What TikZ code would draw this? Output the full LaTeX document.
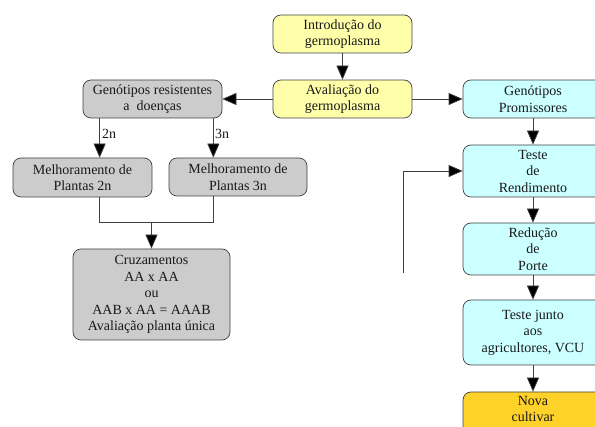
\documentclass[tikz,border=0pt]{standalone}
\usepackage{fontspec}
\setmainfont{Liberation Serif}
\usetikzlibrary{arrows.meta}
\definecolor{ylw}{HTML}{FFFFAA}
\definecolor{cyn}{HTML}{CCFFFF}
\definecolor{gry}{HTML}{CCCCCC}
\definecolor{org}{HTML}{FFD22A}
\definecolor{ln}{HTML}{404040}
\tikzset{
  box/.style={draw=ln, line width=0.7pt, rounded corners=8pt, align=center, inner sep=0pt,
    font=\fontsize{14}{16.5}\selectfont, text=black!90},
  arr/.style={draw=ln, line width=0.7pt, -{Triangle[length=14pt,width=12pt,fill=black]}},
  ln/.style={draw=ln, line width=0.7pt},
  lbl/.style={font=\fontsize{14}{16}\selectfont, inner sep=0pt, anchor=west, text=black!90}
}
\begin{document}
\begin{tikzpicture}[x=1pt,y=-1pt]
\useasboundingbox (0,0) rectangle (595,427);
\clip (0,0) rectangle (595,427);
% yellow
\node[box, fill=ylw, minimum width=139pt, minimum height=38pt] (intro) at (342.5,34) {Introdução do\\germoplasma};
\node[box, fill=ylw, minimum width=139pt, minimum height=38pt] (aval) at (342.5,99) {Avaliação do\\germoplasma};
% gray
\node[box, fill=gry, minimum width=139pt, minimum height=38pt] (res) at (152.5,99) {Genótipos resistentes\\a\ \ doenças};
\node[box, fill=gry, minimum width=139pt, minimum height=39pt] (m2n) at (82.5,177.5) {Melhoramento de\\Plantas 2n};
\node[box, fill=gry, minimum width=138pt, minimum height=38pt] (m3n) at (238,177) {Melhoramento de\\Plantas 3n};
\node[box, fill=gry, minimum width=157pt, minimum height=91pt] (cruz) at (151.5,294.5) {Cruzamentos\\AA x AA\\ou\\AAB x AA = AAAB\\Avaliação planta única};
% cyan
\node[box, fill=cyn, minimum width=140pt, minimum height=38pt] (prom) at (533,99) {Genótipos\\Promissores};
\node[box, fill=cyn, minimum width=140pt, minimum height=52pt] (teste) at (533,171) {Teste\\de\\Rendimento};
\node[box, fill=cyn, minimum width=140pt, minimum height=52pt] (red) at (533,249) {Redução\\de\\Porte};
\node[box, fill=cyn, minimum width=140pt, minimum height=65pt] (junto) at (533,332.5) {Teste junto\\aos\\agricultores, VCU};
\node[box, fill=org, minimum width=140pt, minimum height=56pt] (nova) at (533,420) {};
\node[font=\fontsize{14}{16.5}\selectfont, align=center, text=black!90, anchor=north, inner sep=0pt] (novat) at (533,396) {Nova\\cultivar};
% connectors
\draw[arr] (intro) -- (aval);
\draw[arr] (aval) -- (res);
\draw[arr] (aval) -- (prom);
\draw[arr] ([xshift=17pt]res.south west) -- ([xshift=17pt]res.south west |- m2n.north) coordinate (a2);
\draw[arr] ([xshift=-9pt]res.south east) -- ([xshift=-9pt]res.south east |- m3n.north) coordinate (a3);
\node[lbl] (l2n) at (102,134) {2n};
\node[lbl] (l3n) at (215,134) {3n};
\coordinate (j2) at ([yshift=-25pt]a2 |- m2n.south);
\coordinate (j3) at (a3 |- j2);
\draw[ln] (a2 |- m2n.south) -- (j2) -- (j3) -- (a3 |- m3n.south);
\draw[arr] (cruz.north |- j2) -- (cruz.north);
\draw[arr] (prom) -- (teste);
\draw[arr] (teste) -- (red);
\draw[arr] (red) -- (junto);
\draw[arr] (junto) -- (nova);
\coordinate (fb) at (403,273);
\draw[arr] (fb) |- (teste.west);
\end{tikzpicture}
\end{document}
